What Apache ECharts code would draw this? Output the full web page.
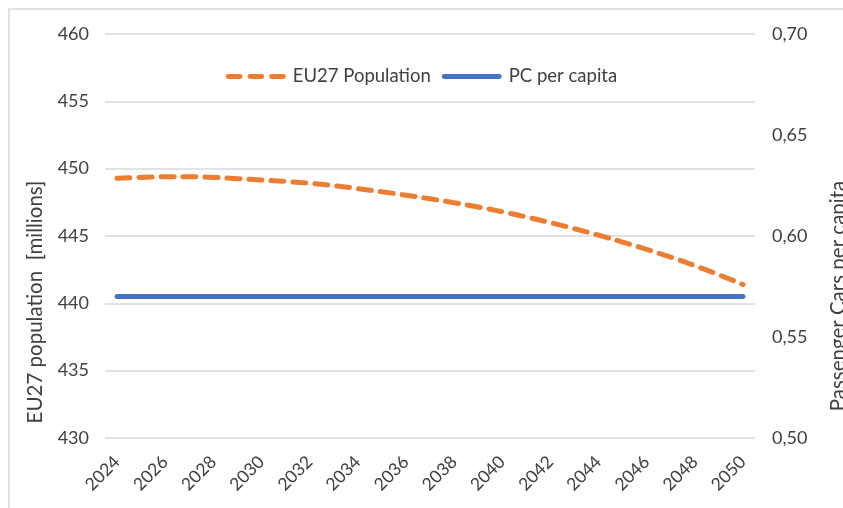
<!DOCTYPE html>
<html>
<head>
<meta charset="utf-8">
<style>
  html, body { margin: 0; padding: 0; background: #fff; }
  #chart { width: 843px; height: 508px; }
</style>
<script src="https://cdn.jsdelivr.net/npm/echarts@6/dist/echarts.min.js"></script>
</head>
<body>
<div id="chart"></div>
<script>
// Years on the horizontal axis
const years = ['2024','2025','2026','2027','2028','2029','2030','2031','2032','2033','2034','2035','2036',
  '2037','2038','2039','2040','2041','2042','2043','2044','2045','2046','2047','2048','2049','2050'];

// EU27 population projection [millions]
const population = [449.28, 449.35, 449.40, 449.40, 449.35, 449.26, 449.16, 449.05, 448.92, 448.74,
  448.52, 448.28, 448.03, 447.76, 447.47, 447.15, 446.80, 446.41, 445.99, 445.54, 445.06, 444.55,
  444.01, 443.43, 442.80, 442.12, 441.40];

// Passenger cars per capita
const pcPerCapita = [0.57, 0.57, 0.57, 0.57, 0.57, 0.57, 0.57, 0.57, 0.57, 0.57, 0.57, 0.57, 0.57,
  0.57, 0.57, 0.57, 0.57, 0.57, 0.57, 0.57, 0.57, 0.57, 0.57, 0.57, 0.57, 0.57, 0.57];

const seriesNames = ['EU27 Population', 'PC per capita'];
const leftAxisTitle = 'EU27 population  [millions]';
const rightAxisTitle = 'Passenger Cars per capita';

const FONT = 'Lato, "Open Sans", sans-serif';
const TEXT = '#404040';
const ORANGE = '#ED7D31';
const BLUE = '#4472C4';

// legend keys: three rounded dashes / one solid bar
const dashIcon = 'path://M2,0H14A2,2 0 0 1 14,5H2A2,2 0 0 1 2,0Z M24,0H36A2,2 0 0 1 36,5H24A2,2 0 0 1 24,0Z M46,0H58A2,2 0 0 1 58,5H46A2,2 0 0 1 46,0Z';
const barIcon = 'path://M2,0H58A2,2 0 0 1 58,5H2A2,2 0 0 1 2,0Z';

const chart = echarts.init(document.getElementById('chart'), null, { renderer: 'canvas' });
chart.setOption({
  backgroundColor: '#ffffff',
  animation: false,
  textStyle: { fontFamily: FONT, color: TEXT },
  grid: { left: 105, right: 88, top: 34, bottom: 70 },
  legend: {
    top: 62,
    left: 'center',
    itemWidth: 60,
    itemHeight: 5,
    itemGap: 11,
    textStyle: { fontFamily: FONT, fontSize: 18.5, color: TEXT, padding: [0, 0, 0, 2] },
    data: [
      { name: seriesNames[0], icon: dashIcon },
      { name: seriesNames[1], icon: barIcon }
    ]
  },
  graphic: [
    {
      type: 'rect', silent: true,
      shape: { x: 9, y: 9, width: 900, height: 600 },
      style: { fill: 'none', stroke: '#d9d9d9', lineWidth: 1.5 }
    },
    {
      type: 'text', silent: true, x: 35, y: 302, rotation: Math.PI / 2,
      style: { text: leftAxisTitle, fontFamily: FONT, fontSize: 20.5, fill: TEXT,
        align: 'center', verticalAlign: 'middle' }
    },
    {
      type: 'text', silent: true, x: 838, y: 296, rotation: Math.PI / 2,
      style: { text: rightAxisTitle, fontFamily: FONT, fontSize: 20.5, fill: TEXT,
        align: 'center', verticalAlign: 'middle' }
    }
  ],
  xAxis: {
    type: 'category',
    data: years,
    boundaryGap: true,
    axisLine: { show: false },
    axisTick: { show: false },
    axisLabel: { interval: 1, rotate: 45, fontSize: 17.5, color: TEXT, fontFamily: FONT, margin: 21 }
  },
  yAxis: [
    {
      type: 'value', min: 430, max: 460, interval: 5,
      axisLine: { show: false }, axisTick: { show: false },
      axisLabel: { fontSize: 18, color: TEXT, fontFamily: FONT, margin: 16 },
      splitLine: { lineStyle: { color: '#d9d9d9', width: 1.5 } }
    },
    {
      type: 'value', min: 0.5, max: 0.7, interval: 0.05,
      axisLine: { show: false }, axisTick: { show: false },
      splitLine: { show: false },
      axisLabel: {
        fontSize: 18, color: TEXT, fontFamily: FONT, margin: 17,
        formatter: v => v.toFixed(2).replace('.', ',')
      }
    }
  ],
  series: [
    {
      name: seriesNames[0], type: 'line', yAxisIndex: 0,
      data: population, smooth: true, showSymbol: false, symbol: 'none',
      lineStyle: { color: ORANGE, width: 5, type: [13, 9], cap: 'round' },
      itemStyle: { color: ORANGE }
    },
    {
      name: seriesNames[1], type: 'line', yAxisIndex: 1,
      data: pcPerCapita, showSymbol: false, symbol: 'none',
      lineStyle: { color: BLUE, width: 5, cap: 'round' },
      itemStyle: { color: BLUE }
    }
  ]
});
</script>
</body>
</html>
